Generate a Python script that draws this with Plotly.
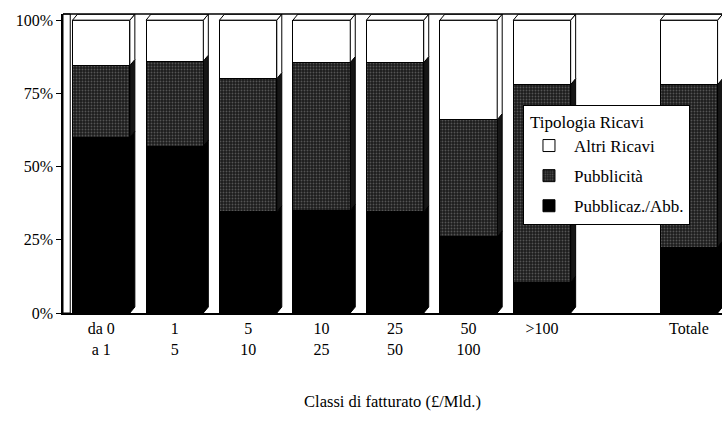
import plotly.graph_objects as go

# Revenue mix by turnover class (share of total, %)
categories = ["da 0<br>a 1", "1<br>5", "5<br>10", "10<br>25", "25<br>50",
              "50<br>100", ">100", "", "Totale"]
pubblicaz_abb = [60, 57, 34.5, 35, 34.5, 26, 10.5, None, 22.5]
pubblicita = [24.5, 29, 45.5, 50.5, 51, 40, 67.5, None, 55.5]
altri_ricavi = [15.5, 14, 20, 14.5, 14.5, 34, 22, None, 22]

series = [
    ("Pubblicaz./Abb.", pubblicaz_abb, "#000000", 3),
    ("Pubblicità", pubblicita, "#1c1c1c", 2),
    ("Altri Ricavi", altri_ricavi, "#ffffff", 1),
]
side_colors = {"Pubblicaz./Abb.": "#000000", "Pubblicità": "#151515",
               "Altri Ricavi": "#ffffff"}

FONT = "Liberation Serif"
BAR_W = 0.78          # bar width in category units
DX, DY = 0.068, 2.05  # depth offset of the pseudo-3D faces

xpos = list(range(len(categories)))

fig = go.Figure()

for name, vals, color, rank in series:
    marker = dict(color=color, line=dict(color="black", width=1))
    if name == "Pubblicità":
        marker["pattern"] = dict(shape=".", fgcolor="#8c8c8c",
                                 bgcolor="#1c1c1c", size=3, solidity=0.3)
    fig.add_trace(go.Bar(
        x=xpos, y=vals, name=name, width=BAR_W, legendgroup=name,
        legendrank=rank, marker=marker, hoverinfo="skip"))

# side faces (one polygon per stacked segment) and top faces of the bars
hw = BAR_W / 2
side_paths = {name: ([], []) for name, _, _, _ in series}
top_x, top_y = [], []
for i in xpos:
    base = 0
    top_total = None
    for name, vals, _, _ in series:
        v = vals[i]
        if v is None:
            continue
        b, t = base, base + v
        xs, ys = side_paths[name]
        xs += [i + hw, i + hw + DX, i + hw + DX, i + hw, i + hw, None]
        ys += [b, b + DY, t + DY, t, b, None]
        base = t
        top_total = t
    if top_total is not None:
        top_x += [i - hw, i - hw + DX, i + hw + DX, i + hw, i - hw, None]
        top_y += [top_total, top_total + DY, top_total + DY, top_total, top_total, None]

for name, _, _, _ in series:
    xs, ys = side_paths[name]
    fig.add_trace(go.Scatter(
        x=xs, y=ys, mode="lines", fill="toself", fillcolor=side_colors[name],
        line=dict(color="black", width=1), showlegend=False, hoverinfo="skip"))
fig.add_trace(go.Scatter(
    x=top_x, y=top_y, mode="lines", fill="toself", fillcolor="white",
    line=dict(color="black", width=1), showlegend=False, hoverinfo="skip"))

fig.update_layout(
    width=722, height=428,
    margin=dict(l=63, r=0, t=14, b=115),
    barmode="stack",
    plot_bgcolor="white", paper_bgcolor="white",
    font=dict(family=FONT, size=16, color="black"),
    showlegend=True,
    legend=dict(
        title=dict(text=" Tipologia Ricavi", font=dict(family=FONT, size=17)),
        x=0.698, y=0.696, xanchor="left", yanchor="top",
        bgcolor="white", bordercolor="black", borderwidth=1,
        traceorder="grouped", tracegroupgap=5,
        font=dict(family=FONT, size=17),
        itemwidth=40,
    ),
    xaxis=dict(
        range=[-0.52, 8.45], tickmode="array", tickvals=xpos, ticktext=categories,
        showline=True, linecolor="black", linewidth=1.5, ticks="",
        showgrid=False, zeroline=False,
        title=dict(text="Classi di fatturato (£/Mld.)", standoff=39,
                   font=dict(family=FONT, size=16.5)),
        tickfont=dict(family=FONT, size=16),
    ),
    yaxis=dict(
        range=[0, 102.1], tickmode="array", tickvals=[0, 25, 50, 75, 100],
        ticktext=["0%", "25%", "50%", "75%", "100%"],
        showline=True, linecolor="black", linewidth=1.5,
        ticks="outside", ticklen=5, tickcolor="black",
        showgrid=False, zeroline=False,
        tickfont=dict(family=FONT, size=16),
    ),
    shapes=[
        # left wall and top edge of the chart box
        dict(type="rect", xref="paper", yref="paper", x0=0, x1=0.011, y0=0, y1=1,
             fillcolor="white", line=dict(color="black", width=1), layer="below"),
        dict(type="line", xref="paper", yref="paper", x0=0, x1=1, y0=1, y1=1,
             line=dict(color="black", width=1.5)),
    ],
)

fig.write_html("out.html")
